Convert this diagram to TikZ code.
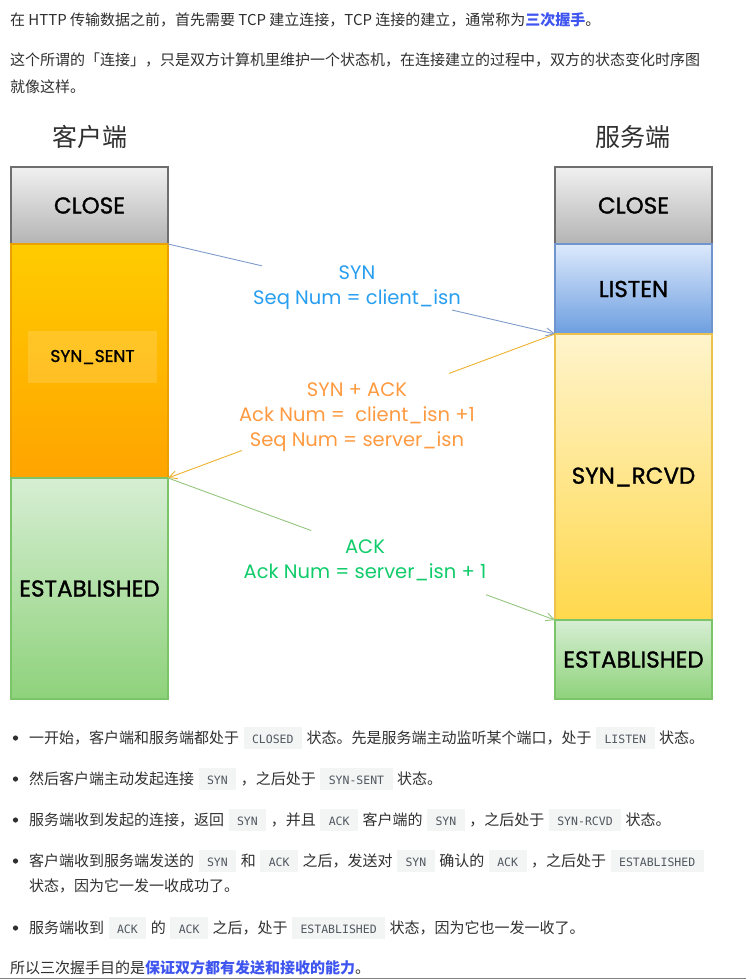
\documentclass[tikz,border=0pt]{standalone}
\usepackage{fontspec}
\setmainfont{Noto Sans CJK SC}
\newfontfamily\sketchfont{Poppins}
\newfontfamily\statefont[FakeBold=1.2]{Poppins}
\newfontfamily\codefont{DejaVu Sans Mono}
\usetikzlibrary{arrows.meta,calc}

\definecolor{textc}{HTML}{303030}
\definecolor{linkc}{HTML}{3F55F0}
\definecolor{codebg}{HTML}{F3F4F4}
\definecolor{codefg}{HTML}{505860}
\definecolor{closet}{HTML}{F0F0F0}
\definecolor{closeb}{HTML}{B4B4B4}
\definecolor{closeln}{HTML}{6E6E6E}
\definecolor{oranget}{HTML}{FFCC00}
\definecolor{orangeb}{HTML}{FFA400}
\definecolor{orangeln}{HTML}{E9A000}
\definecolor{greent}{HTML}{D6EED3}
\definecolor{greenb}{HTML}{8ED27B}
\definecolor{greenln}{HTML}{7CC46A}
\definecolor{bluet}{HTML}{DCE9FC}
\definecolor{blueb}{HTML}{6D9EE0}
\definecolor{blueln}{HTML}{6F95CC}
\definecolor{yellowt}{HTML}{FFF4CC}
\definecolor{yellowb}{HTML}{FFD84C}
\definecolor{yellowln}{HTML}{EBC24E}
\definecolor{syntxt}{HTML}{289EF0}
\definecolor{synline}{HTML}{7F9CCB}
\definecolor{sacktxt}{HTML}{FF9A40}
\definecolor{sackline}{HTML}{EDB32F}
\definecolor{acktxt}{HTML}{10CC6A}
\definecolor{ackline}{HTML}{94C67E}

% inline code chip
\newcommand\code[1]{\hspace{4.5pt}{\setlength{\fboxsep}{0pt}\colorbox{codebg}{\hspace{8.5pt}\rule[-6pt]{0pt}{22pt}\color{codefg}\codefont\fontsize{11.5}{12}\selectfont #1\hspace{8.5pt}}}\hspace{4.5pt}}

\begin{document}
\begin{tikzpicture}[x=1pt,y=-1pt,
  every node/.style={inner sep=0pt,outer sep=0pt},
  para/.style={anchor=west,font=\fontsize{15}{20}\selectfont,text=textc},
  side/.style={font=\fontsize{25}{30}\selectfont,text=textc},
  state/.style={draw,line width=1.6pt,minimum width=157pt,font=\statefont\fontsize{23}{26}\selectfont,text=black},
  msg/.style={align=center,font=\sketchfont\fontsize{19.5}{25}\selectfont},
  msgline/.style={line width=.9pt},
  tip/.style={-{Straight Barb[length=8pt,width=8pt]}}]
\fill[white] (0,0) rectangle (746,979);
\useasboundingbox (0,0) rectangle (746,979);
% intro text
\node[para] (intro) at (10,20) {在 HTTP 传输数据之前，首先需要 TCP 建立连接，TCP 连接的建立，通常称为{\bfseries\color{linkc}三次握手}。};
\node[para] (desc) at (10,60) {这个所谓的「连接」，只是双方计算机里维护一个状态机，在连接建立的过程中，双方的状态变化时序图};
\node[para] (desc2) at (10,87) {就像这样。};
% two sides
\node[side] (client) at (90,137) {客户端};
\node[side] (server) at (633,137) {服务端};
% client states
\node[state,draw=closeln,top color=closet,bottom color=closeb,minimum height=77pt] (cclose) at (89.5,205.5) {CLOSE};
\node[state,draw=orangeln,top color=oranget,bottom color=orangeb,minimum height=234pt] (csent) at (89.5,361) {};
\node[fill=white,fill opacity=.15,text opacity=1,minimum width=129pt,minimum height=52pt,font=\statefont\fontsize{17}{20}\selectfont] (csentlbl) at (92.5,357) {SYN\_SENT};
\node[state,draw=greenln,top color=greent,bottom color=greenb,minimum height=221pt] (cest) at (89.5,588.5) {ESTABLISHED};
% server states
\node[state,draw=closeln,top color=closet,bottom color=closeb,minimum height=77pt] (sclose) at (633.5,205.5) {CLOSE};
\node[state,draw=blueln,top color=bluet,bottom color=blueb,minimum height=90pt] (slisten) at (633.5,289) {LISTEN};
\node[state,draw=yellowln,top color=yellowt,bottom color=yellowb,minimum height=286pt] (srcvd) at (633.5,477) {SYN\_RCVD};
\node[state,draw=greenln,top color=greent,bottom color=greenb,minimum height=79pt] (sest) at (633.5,659.5) {ESTABLISHED};
% messages
\node[msg,text=syntxt] (synlbl) at (357,287.5) {SYN\\Seq Num = client\_isn};
\draw[msgline,draw=synline] (cclose.south east) -- ($(cclose.south east)!.243!(slisten.south west)$);
\draw[msgline,draw=synline,tip] ($(cclose.south east)!.734!(slisten.south west)$) -- (slisten.south west);
\node[msg,text=sacktxt] (sacklbl) at (357,417) {SYN + ACK\\Ack Num =\ \ client\_isn +1\\Seq Num = server\_isn};
\draw[msgline,draw=sackline] (srcvd.north west) -- ($(srcvd.north west)!.274!(csent.south east)$);
\draw[msgline,draw=sackline,tip] ($(srcvd.north west)!.809!(csent.south east)$) -- (csent.south east);
\node[msg,text=acktxt] (acklbl) at (365,560) {ACK\\Ack Num = server\_isn + 1};
\draw[msgline,draw=ackline] (cest.north east) -- ($(cest.north east)!.37!(sest.north west)$);
\draw[msgline,draw=ackline,tip] ($(cest.north east)!.822!(sest.north west)$) -- (sest.north west);
% list
\fill[textc] (15.5,738) circle (2.6pt);
\node[para] (item1) at (29,738) {一开始，客户端和服务端都处于\code{CLOSED}状态。先是服务端主动监听某个端口，处于\code{LISTEN}状态。};
\fill[textc] (15.5,779) circle (2.6pt);
\node[para] (item2) at (29,779) {然后客户端主动发起连接\code{SYN}，之后处于\code{SYN-SENT}状态。};
\fill[textc] (15.5,820) circle (2.6pt);
\node[para] (item3) at (29,820) {服务端收到发起的连接，返回\code{SYN}，并且\code{ACK}客户端的\code{SYN}，之后处于\code{SYN-RCVD}状态。};
\fill[textc] (15.5,861) circle (2.6pt);
\node[para] (item4) at (29,861) {客户端收到服务端发送的\code{SYN}和\code{ACK}之后，发送对\code{SYN}确认的\code{ACK}，之后处于\code{ESTABLISHED}};
\node[para] (item4b) at (29,886) {状态，因为它一发一收成功了。};
\fill[textc] (15.5,928) circle (2.6pt);
\node[para] (item5) at (29,928) {服务端收到\code{ACK}的\code{ACK}之后，处于\code{ESTABLISHED}状态，因为它也一发一收了。};
\node[para] (summary) at (10,968) {所以三次握手目的是{\bfseries\color{linkc}保证双方都有发送和接收的能力}。};
\draw[gray] (0,978.5) -- (746,978.5);
\end{tikzpicture}
\end{document}
